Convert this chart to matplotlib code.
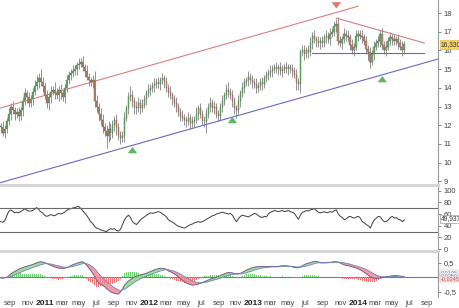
import numpy as np
import pandas as pd
import matplotlib
matplotlib.use('Agg')
import matplotlib.pyplot as plt

plt.rcParams['font.family'] = ['Liberation Sans', 'DejaVu Sans']

# weekly data, first week ends 2010-07-30
start_week = '2010-07-30'

closes = [
    11.9, 11.6, 11.8, 12.2, 12.6, 13.0, 12.8, 12.6, 12.7, 12.5,
    12.8, 13.3, 13.7, 13.5, 13.2, 13.4, 13.8, 14.1, 14.3, 14.5,
    14.3, 14.1, 13.6, 13.2, 13.5, 13.8, 13.9, 13.7, 13.6, 13.9,
    13.7, 13.5, 14.0, 14.4, 14.7, 14.8, 14.9, 15.0, 15.2, 15.3,
    15.4, 15.1, 14.9, 14.6, 14.4, 14.3, 14.4, 13.3, 13.0, 12.6,
    12.3, 11.9, 11.7, 11.4, 11.8, 11.6, 12.0, 12.3, 11.9, 11.5,
    11.3, 11.4, 12.4, 12.9, 13.5, 13.6, 13.3, 13.0, 12.9, 13.2,
    12.9, 13.1, 13.4, 13.7, 13.9, 14.0, 14.1, 14.2, 14.3, 14.2,
    14.4, 14.5, 14.3, 14.0, 13.8, 13.6, 13.4, 13.2, 13.0, 12.7,
    12.5, 12.4, 12.3, 12.2, 12.4, 12.1, 12.2, 12.3, 12.6, 12.9,
    12.6, 12.3, 12.2, 12.6, 13.0, 13.2, 12.9, 13.0, 12.6, 12.5,
    13.0, 13.3, 13.6, 13.9, 13.8, 13.6, 13.3, 12.9, 12.8, 13.3,
    13.7, 14.0, 14.3, 14.4, 14.6, 14.4, 14.3, 14.2, 14.0, 14.1,
    14.3, 14.2, 14.5, 14.7, 14.8, 14.9, 15.0, 15.1, 15.0, 15.1,
    14.9, 15.0, 15.1, 15.0, 15.1, 15.0, 14.9, 14.7, 14.3, 14.2,
    15.9, 16.0, 15.8, 16.0, 15.9, 16.4, 16.8, 16.6, 16.5, 16.4,
    16.5, 16.4, 16.7, 16.8, 16.6, 16.9, 17.0, 17.3, 17.4, 16.5,
    16.4, 16.6, 16.9, 16.8, 16.7, 16.3, 16.0, 16.2, 16.8, 16.9,
    16.8, 16.7, 16.5, 16.1, 15.9, 15.4, 15.8, 16.2, 16.4, 16.5,
    16.9, 16.3, 16.0, 16.2, 16.5, 16.7, 16.6, 16.5, 16.6, 16.4,
    16.2, 16.0, 16.33,
]

wick_up = [
    .2, .3, .2, .2, .3, .2, .3, .2, .2, .3,
    .2, .2, .3, .2, .3, .2, .2, .3, .4, .3,
    .5, .3, .2, .3, .2, .3, .2, .4, .3, .2,
    .3, .2, .2, .3, .2, .2, .3, .2, .2, .3,
    .2, .3, .2, .3, .2, .2, .3, .5, .3, .2,
    .3, .3, .2, .3, .4, .3, .3, .2, .3, .2,
    .2, .3, .3, .2, .3, .5, .3, .2, .3, .3,
    .2, .3, .2, .2, .3, .2, .2, .3, .2, .3,
    .2, .3, .2, .3, .2, .3, .2, .2, .3, .2,
    .2, .3, .2, .2, .3, .2, .3, .2, .4, .2,
    .3, .2, .2, .3, .2, .3, .2, .3, .2, .2,
    .2, .3, .2, .3, .4, .2, .3, .2, .2, .3,
    .2, .3, .2, .2, .3, .2, .3, .2, .3, .2,
    .2, .3, .2, .2, .2, .3, .2, .2, .3, .2,
    .3, .2, .2, .3, .2, .2, .3, .2, .3, .2,
    .2, .3, .3, .2, .3, .3, .2, .3, .2, .3,
    .2, .3, .2, .3, .2, .3, .2, .3, .3, .4,
    .3, .2, .3, .2, .3, .2, .3, .2, .3, .2,
    .2, .3, .2, .3, .2, .3, .2, .3, .2, .3,
    .2, .3, .2, .3, .2, .3, .2, .3, .2, .3,
    .2, .3, .2,
]

wick_dn = [
    .3, .2, .3, .2, .2, .3, .2, .3, .2, .3,
    .2, .3, .2, .3, .2, .2, .3, .2, .2, .3,
    .2, .3, .2, .3, .4, .3, .2, .3, .2, .3,
    .3, .2, .3, .2, .2, .3, .2, .2, .3, .2,
    .2, .2, .3, .2, .3, .2, .3, .3, .3, .4,
    .3, .3, .3, .6, .3, .4, .3, .3, .4, .3,
    .3, .2, .3, .2, .3, .2, .3, .4, .3, .2,
    .3, .2, .2, .3, .2, .3, .2, .3, .2, .2,
    .3, .2, .3, .2, .3, .2, .3, .2, .3, .2,
    .3, .2, .3, .3, .2, .3, .2, .3, .2, .3,
    .2, .3, .3, .6, .2, .3, .2, .3, .2, .3,
    .2, .3, .2, .2, .3, .2, .3, .3, .4, .2,
    .3, .2, .3, .2, .3, .2, .3, .2, .3, .2,
    .2, .3, .2, .2, .3, .2, .3, .2, .2, .3,
    .2, .3, .2, .2, .3, .2, .3, .2, .4, .3,
    .5, .2, .3, .2, .3, .2, .3, .2, .3, .2,
    .3, .2, .2, .3, .2, .3, .2, .2, .3, .2,
    .2, .3, .2, .3, .2, .3, .2, .3, .2, .3,
    .2, .3, .2, .3, .4, .35, .2, .3, .2, .2,
    .3, .2, .2, .3, .2, .2, .3, .2, .2, .3,
    .2, .3, .2,
]

rsi = [
    47, 46, 48, 56, 64, 67, 65, 62, 63, 62,
    64, 66, 69, 67, 65, 65, 66, 68, 71, 68,
    64, 62, 58, 56, 57, 59, 58, 57, 59, 61,
    60, 61, 63, 66, 68, 69, 70, 71, 72, 73,
    70, 66, 62, 58, 53, 47, 44, 39, 36, 35,
    33, 32, 31, 30, 33, 35, 34, 35, 32, 31,
    34, 42, 50, 55, 58, 54, 47, 44, 42, 46,
    50, 53, 55, 58, 60, 62, 61, 62, 63, 64,
    63, 60, 58, 55, 50, 48, 46, 44, 41, 39,
    38, 37, 36, 38, 40, 42, 43, 45, 46, 47,
    46, 47, 49, 51, 53, 55, 57, 58, 60, 61,
    62, 63, 62, 61, 60, 61, 58, 52, 47, 52,
    56, 58, 57, 56, 55, 57, 59, 61, 60, 57,
    55, 54, 56, 55, 60, 63, 64, 66, 65, 64,
    65, 66, 64, 65, 66, 64, 63, 61, 56, 51,
    58, 63, 64, 66, 65, 67, 68, 69, 66, 63,
    62, 63, 64, 62, 63, 64, 63, 66, 67, 60,
    56, 54, 50, 52, 55, 56, 54, 53, 55, 56,
    53, 47, 45, 42, 40, 36, 44, 50, 53, 56,
    55, 50, 47, 47, 50, 54, 56, 53, 54, 51,
    50, 47, 49.937,
]

macd = [
    -0.02, -0.03, -0.02, 0.00, 0.04, 0.11, 0.16, 0.20, 0.24, 0.28,
    0.31, 0.33, 0.36, 0.38, 0.40, 0.42, 0.44, 0.47, 0.50, 0.52,
    0.54, 0.53, 0.51, 0.48, 0.45, 0.42, 0.39, 0.36, 0.34, 0.32,
    0.31, 0.31, 0.31, 0.33, 0.36, 0.40, 0.43, 0.46, 0.48, 0.51,
    0.53, 0.54, 0.50, 0.42, 0.34, 0.25, 0.15, 0.04, -0.10, -0.18,
    -0.24, -0.28, -0.32, -0.38, -0.44, -0.50, -0.53, -0.55, -0.57, -0.58,
    -0.50, -0.40, -0.27, -0.20, -0.13, -0.08, -0.03, 0.02, 0.04, 0.06,
    0.08, 0.10, 0.12, 0.14, 0.17, 0.20, 0.23, 0.26, 0.28, 0.30,
    0.31, 0.31, 0.30, 0.27, 0.22, 0.19, 0.16, 0.12, 0.07, 0.01,
    -0.05, -0.10, -0.15, -0.19, -0.23, -0.25, -0.27, -0.26, -0.25, -0.23,
    -0.21, -0.18, -0.15, -0.12, -0.09, -0.06, -0.04, -0.02, 0.01, 0.03,
    0.06, 0.09, 0.12, 0.15, 0.17, 0.16, 0.15, 0.13, 0.12, 0.13,
    0.14, 0.17, 0.21, 0.25, 0.28, 0.31, 0.33, 0.35, 0.36, 0.37,
    0.37, 0.38, 0.37, 0.37, 0.37, 0.38, 0.38, 0.37, 0.37, 0.38,
    0.39, 0.40, 0.40, 0.40, 0.39, 0.38, 0.36, 0.34, 0.33, 0.33,
    0.36, 0.40, 0.44, 0.47, 0.49, 0.51, 0.53, 0.55, 0.55, 0.53,
    0.51, 0.50, 0.50, 0.51, 0.51, 0.52, 0.53, 0.54, 0.54, 0.52,
    0.49, 0.46, 0.43, 0.41, 0.40, 0.38, 0.36, 0.34, 0.32, 0.29,
    0.26, 0.22, 0.17, 0.12, 0.07, 0.02, -0.02, -0.04, -0.04, -0.03,
    -0.02, -0.01, 0.01, 0.02, 0.03, 0.04, 0.05, 0.06, 0.06, 0.05,
    0.04, 0.02, 0.0105,
]

signal = [
    0.00, -0.01, -0.01, -0.01, 0.00, 0.02, 0.05, 0.08, 0.11, 0.14,
    0.17, 0.20, 0.23, 0.26, 0.28, 0.31, 0.33, 0.36, 0.38, 0.41,
    0.43, 0.45, 0.47, 0.47, 0.47, 0.46, 0.45, 0.43, 0.41, 0.40,
    0.38, 0.36, 0.35, 0.35, 0.35, 0.36, 0.37, 0.39, 0.41, 0.43,
    0.45, 0.47, 0.48, 0.47, 0.45, 0.41, 0.36, 0.30, 0.22, 0.14,
    0.06, -0.01, -0.08, -0.14, -0.20, -0.26, -0.31, -0.36, -0.40, -0.44,
    -0.45, -0.44, -0.41, -0.37, -0.32, -0.27, -0.22, -0.17, -0.13, -0.09,
    -0.05, -0.02, 0.01, 0.04, 0.07, 0.09, 0.12, 0.15, 0.17, 0.20,
    0.22, 0.24, 0.26, 0.26, 0.26, 0.25, 0.23, 0.21, 0.18, 0.15,
    0.11, 0.07, 0.03, -0.01, -0.05, -0.09, -0.12, -0.15, -0.17, -0.18,
    -0.19, -0.19, -0.18, -0.17, -0.15, -0.13, -0.11, -0.09, -0.07, -0.05,
    -0.03, -0.01, 0.02, 0.04, 0.07, 0.09, 0.10, 0.11, 0.11, 0.11,
    0.12, 0.12, 0.14, 0.15, 0.18, 0.20, 0.22, 0.25, 0.27, 0.29,
    0.30, 0.32, 0.33, 0.34, 0.35, 0.35, 0.36, 0.36, 0.36, 0.36,
    0.37, 0.37, 0.38, 0.38, 0.38, 0.38, 0.38, 0.37, 0.36, 0.36,
    0.35, 0.36, 0.37, 0.39, 0.41, 0.43, 0.45, 0.47, 0.49, 0.50,
    0.50, 0.50, 0.50, 0.50, 0.50, 0.51, 0.51, 0.52, 0.52, 0.52,
    0.52, 0.51, 0.50, 0.48, 0.47, 0.45, 0.43, 0.41, 0.39, 0.37,
    0.35, 0.33, 0.30, 0.27, 0.23, 0.19, 0.15, 0.11, 0.08, 0.05,
    0.03, 0.02, 0.01, 0.01, 0.01, 0.02, 0.02, 0.03, 0.03, 0.04,
    0.04, 0.04, 0.035,
]

# trend lines drawn on the chart (date, value)
channel_top = (['2010-07-30', '2014-01-03'], [12.92, 18.37])
channel_bottom = (['2010-07-30', '2014-10-09'], [8.93, 15.54])
triangle_top = (['2013-10-18', '2014-08-22'], [17.73, 16.40])
support = (['2013-07-26', '2014-08-22'], [15.88, 15.88])

# signal arrows
buy_dates = ['2011-11-04', '2012-10-19', '2014-03-28']
buy_values = [10.78, 12.39, 14.58]
sell_dates = ['2013-10-18']
sell_values = [18.30]

# ---------------------------------------------------------------
dates = pd.date_range(start_week, periods=len(closes), freq='W-FRI')
c = np.array(closes)
o = np.concatenate([[closes[0]], c[:-1]])
hi = np.maximum(o, c) + np.array(wick_up)
lo = np.minimum(o, c) - np.array(wick_dn)
macd = np.array(macd)
signal = np.array(signal)
hist = macd - signal

fig = plt.figure(figsize=(4.6, 3.08), dpi=100)
ax = fig.add_axes([0.0, 1 - 185 / 308, 438 / 460, 185 / 308])
ax_rsi = fig.add_axes([0.0, 1 - 251 / 308, 438 / 460, 64 / 308])
ax_m = fig.add_axes([0.0, 1 - 297 / 308, 438 / 460, 44 / 308])

x_left = pd.Timestamp('2010-07-28')
x_right = pd.Timestamp('2014-10-09')

for a in (ax, ax_rsi, ax_m):
    a.set_xlim(x_left, x_right)
    a.yaxis.tick_right()
    for s in ('top', 'left'):
        a.spines[s].set_visible(False)
    a.spines['right'].set_color('#9a9a9a')
    a.spines['right'].set_linewidth(0.8)
    a.spines['bottom'].set_color('#d6d6d6')
    a.spines['bottom'].set_linewidth(2.2)
    a.tick_params(axis='y', labelsize=5.5, length=2, width=0.5, pad=2,
                  colors='#555555', labelcolor='#444444')

# candles
up = c >= o
body_col = np.where(up, '#62c066', '#d68770')
ax.vlines(dates, lo, hi, color='#555555', linewidth=0.45, zorder=2)
ax.bar(dates, np.where(np.abs(c - o) < 0.05, 0.05, c - o), bottom=o, width=6,
       color=body_col, edgecolor='#505050', linewidth=0.25, zorder=3)

# trend lines
ax.plot(pd.to_datetime(channel_top[0]), channel_top[1], color='#d9807c', lw=0.8)
ax.plot(pd.to_datetime(channel_bottom[0]), channel_bottom[1], color='#6868c4', lw=0.8)
ax.plot(pd.to_datetime(triangle_top[0]), triangle_top[1], color='#cf7f86', lw=0.8)
ax.plot(pd.to_datetime(support[0]), support[1], color='#6868b8', lw=0.8)

arrow_style = 'simple,head_width=0.9,head_length=0.6,tail_width=0.45'
for d, v in zip(pd.to_datetime(buy_dates), buy_values):
    ax.annotate('', xy=(d, v + 0.2), xytext=(d, v - 0.2),
                arrowprops=dict(arrowstyle=arrow_style, color='#5cb860', lw=0,
                                mutation_scale=7.5), zorder=5)
for d, v in zip(pd.to_datetime(sell_dates), sell_values):
    ax.annotate('', xy=(d, v - 0.2), xytext=(d, v + 0.2),
                arrowprops=dict(arrowstyle=arrow_style, color='#e07870', lw=0,
                                mutation_scale=7.5), zorder=5)

ax.set_ylim(8.8, 18.7)
ax.set_yticks(range(9, 19))
ax.set_xticks([])
ax.annotate('16,330', xy=(1.006, closes[-1]), xycoords=('axes fraction', 'data'),
            fontsize=4.8, color='#333333', va='center', ha='left',
            bbox=dict(boxstyle='square,pad=0.12', fc='#f7d55c', ec='#e0b030', lw=0.4),
            zorder=10, annotation_clip=False)

# RSI panel
ax_rsi.plot(dates, rsi, color='#3c3c3c', lw=0.7)
ax_rsi.axhline(70, color='#6a6a6a', lw=0.8)
ax_rsi.axhline(30, color='#6a6a6a', lw=0.8)
ax_rsi.set_ylim(-3, 106)
ax_rsi.set_yticks([0, 20, 40, 60, 80, 100])
ax_rsi.set_xticks([])
ax_rsi.annotate('49,937', xy=(1.006, 52), xycoords=('axes fraction', 'data'),
                fontsize=4.8, color='#333333', va='center', ha='left',
                bbox=dict(boxstyle='square,pad=0.08', fc='white', ec='#888888', lw=0.4),
                annotation_clip=False)

# MACD panel
ax_m.axhline(0, color='#7272c8', lw=0.8, zorder=1)
ax_m.bar(dates, hist, width=3.5, color=np.where(hist >= 0, '#6fd06f', '#ee7070'), zorder=2)
ax_m.fill_between(dates, macd, signal, where=macd >= signal, interpolate=True,
                  color='#8ad88a', alpha=0.85, lw=0, zorder=3)
ax_m.fill_between(dates, macd, signal, where=macd < signal, interpolate=True,
                  color='#f08a94', alpha=0.85, lw=0, zorder=3)
ax_m.plot(dates, macd, color='#7c5a88', lw=0.7, zorder=4)
ax_m.plot(dates, signal, color='#6c86b8', lw=0.6, zorder=4)
ax_m.set_ylim(-0.68, 0.84)
ax_m.set_yticks([0.5, -0.5], labels=['0,5', '-0,5'])
for val, txt, tc, fc in [(0.15, '0,0105', '#6a6ab0', 'white'),
                         (0.06, '0,0350', '#6a6ab0', 'white'),
                         (-0.05, '-0,0245', '#c05050', '#f6dede')]:
    ax_m.annotate(txt, xy=(1.006, val), xycoords=('axes fraction', 'data'),
                  fontsize=4.0, color=tc, va='center', ha='left',
                  bbox=dict(boxstyle='square,pad=0.06', fc=fc, ec='#b0b0b0', lw=0.3),
                  annotation_clip=False)

# x labels: every other month, year at january
tick_dates = pd.date_range('2010-09-01', '2014-09-01', freq='2MS')
tick_labels = [str(d.year) if d.month == 1 else d.strftime('%b').lower() for d in tick_dates]
ax_m.set_xticks(tick_dates)
ax_m.set_xticklabels(tick_labels)
ax_m.tick_params(axis='x', length=0, pad=2.5, labelsize=5.5, labelcolor='#444444')
for lab in ax_m.get_xticklabels():
    if lab.get_text().isdigit():
        lab.set_fontweight('bold')
        lab.set_fontsize(6)
        lab.set_color('#222222')
ax_m.spines['bottom'].set_visible(False)

fig.savefig('out.png', dpi=100)
